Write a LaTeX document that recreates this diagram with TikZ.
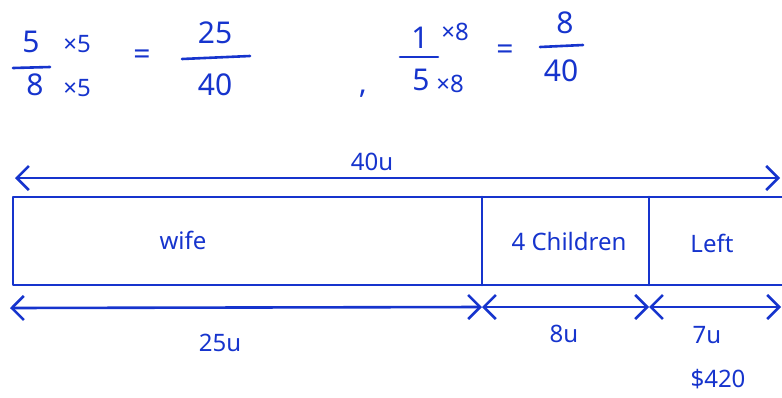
\documentclass[tikz,border=0pt]{standalone}
\usepackage{fontspec}
\setmainfont{Noto Sans}
\usetikzlibrary{arrows.meta,positioning,calc}
\definecolor{ink}{RGB}{22,52,205}

\begin{document}
\begin{tikzpicture}[x=1pt,y=-1pt,
    pen/.style={draw=ink,line width=2.6pt,line cap=round,line join=round},
    dimline/.style={pen,{Straight Barb[length=12pt,width=24pt]}-{Straight Barb[length=12pt,width=24pt]}},
    lbl/.style={text=ink,font=\fontsize{24}{26}\selectfont,inner sep=0pt},
    num/.style={text=ink,font=\fontsize{30}{32}\selectfont,inner sep=0pt},
    mul/.style={text=ink,font=\fontsize{24}{26}\selectfont,inner sep=0pt}]
  \useasboundingbox (0,0) rectangle (782,397); % 画像と同じ大きさ
  \clip (0,0) rectangle (782,397); % 右端ではみ出す線を切る
  % 分数の計算
  \node[num] (n5) at (31,42) {5}; % 5/8 の分子
  \node[num] (d8) at (35,85) {8}; % 5/8 の分母
  \node[mul] (m5a) at (77,44) {×5};
  \node[mul] (m5b) at (77,88) {×5};
  \coordinate (bA1) at (13,68); \coordinate (bA2) at (50,67);
  \draw[pen] (bA1) -- (bA2); % 分数の横棒
  \node[num] (eqA) at (142,57) {=};
  \node[num] (n25) at (215,33) {25};
  \node[num] (d40a) at (215,85) {40};
  \coordinate (bB1) at (182,59); \coordinate (bB2) at (250,56);
  \draw[pen] (bB1) -- (bB2);
  \node[num] (comma) at (363,94) {,}; % 区切りのカンマ
  \node[num] (n1) at (420,38) {1}; % 1/5 の分子
  \node[num] (d5) at (421,80) {5};
  \node[mul] (m8a) at (455,32) {×8};
  \node[mul] (m8b) at (450,84) {×8};
  \coordinate (bC1) at (400,57); \coordinate (bC2) at (438,57);
  \draw[pen] (bC1) -- (bC2);
  \node[num] (eqB) at (505,52) {=};
  \node[num] (n8) at (565,23) {8};
  \node[num] (d40b) at (561,71) {40};
  \coordinate (bD1) at (540,47); \coordinate (bD2) at (583,45);
  \draw[pen] (bD1) -- (bD2);
  % 線分図
  \coordinate (tl) at (13,197); \coordinate (bl) at (13,285); % 左端
  \coordinate (tr) at (782,197); \coordinate (br) at (782,285); % 右端（画面外へ続く）
  \coordinate (t1) at (482,197); \coordinate (b1) at (482,285); % 妻と子の境
  \coordinate (t2) at (649,197); \coordinate (b2) at (649,285); % 子と残りの境
  \draw[pen] (tr) -- (tl) -- (bl) -- (br); % 全体の帯
  \draw[pen] (t1) -- (b1);
  \draw[pen] (t2) -- (b2);
  \node[lbl] (wife) at (183,240) {wife};
  \node[lbl] (kids) at (569,241) {4 Children};
  \node[lbl] (left) at (712,243) {Left};
  % 寸法の矢印
  \coordinate (aL) at (15,178); \coordinate (aR) at (780,178);
  \draw[dimline] (aL) -- (aR); % 全体 40u
  \node[lbl] (u40) at (372,162) {40u};
  \coordinate (cL) at (10,308); \coordinate (c1) at (482,307);
  \coordinate (c2) at (649,307); \coordinate (cR) at (781,307);
  \draw[dimline] (cL) -- (c1); % 25u
  \draw[dimline] (c1) -- (c2); % 8u
  \draw[dimline] (c2) -- (cR); % 7u
  \node[lbl] (u25) at (220,343) {25u};
  \node[lbl] (u8) at (564,334) {8u};
  \node[lbl] (u7) at (707,335) {7u};
  \node[lbl] (money) at (718,379) {\$420};
\end{tikzpicture}
\end{document}
